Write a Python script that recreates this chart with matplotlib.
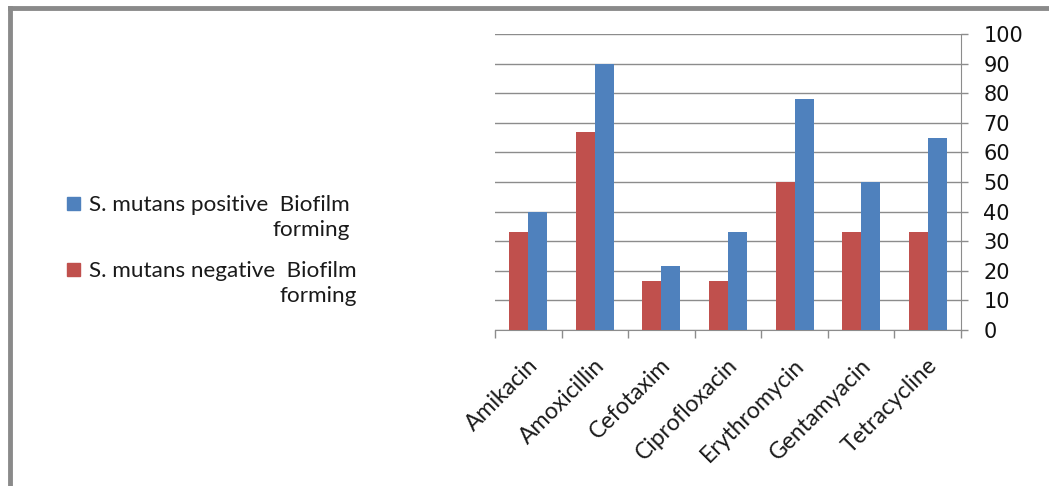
import matplotlib.pyplot as plt
import numpy as np
from matplotlib.lines import Line2D
from matplotlib.patches import Rectangle

# data
drugs = ["Amikacin", "Amoxicillin", "Cefotaxim", "Ciprofloxacin",
         "Erythromycin", "Gentamyacin", "Tetracycline"]
negative = [33, 67, 16.5, 16.5, 50, 33, 33]
positive = [40, 90, 21.5, 33, 78, 50, 65]
pos_label = "S. mutans positive  Biofilm\nforming"
neg_label = "S. mutans negative  Biofilm\nforming"

red = "#C0504D"
blue = "#4F81BD"
grey = "#8C8C8C"

W, H = 1049, 486
fig = plt.figure(figsize=(W / 100, H / 100), dpi=100)
# plot area: x 495..961 px, y 34..330 px
ax = fig.add_axes([495 / W, 1 - 330 / H, 466 / W, 296 / H])

x = np.arange(len(drugs))
w = 0.285
ax.bar(x - w / 2, negative, w, color=red, zorder=3)
ax.bar(x + w / 2, positive, w, color=blue, zorder=3)

ax.set_xlim(-0.5, len(drugs) - 0.5)
ax.set_ylim(0, 100)
ax.set_yticks(np.arange(0, 101, 10))
ax.yaxis.tick_right()
ax.grid(axis="y", color=grey, linewidth=1, zorder=0)

# category tick marks between groups
ax.set_xticks(np.arange(-0.5, len(drugs), 1))
ax.set_xticklabels([])
ax.tick_params(axis="x", length=6, color=grey, width=1)
ax.tick_params(axis="y", length=5, color=grey, width=1, labelsize=15, pad=11)
for lab in ax.get_yticklabels():
    lab.set_fontfamily("DejaVu Sans")
    lab.set_color("#111111")

for s in ["top", "left"]:
    ax.spines[s].set_visible(False)
ax.spines["right"].set_color(grey)
ax.spines["bottom"].set_color(grey)

# rotated drug names
for i, name in enumerate(drugs):
    ax.text(i - 0.02, -8.3, name, rotation=45, ha="right", va="top",
            rotation_mode="anchor", fontsize=16.6, family="Lato",
            color="#1a1a1a", clip_on=False)

# legend drawn by hand: square beside the first line, text right aligned
pitch = 28  # px between the two lines of one entry
legend_items = [(pos_label, blue, 208), (neg_label, red, 274)]
for label, col, base in legend_items:
    fig.add_artist(Rectangle((67 / W, 1 - (base + 2) / H), 13 / W, 13 / H,
                             transform=fig.transFigure, color=col))
    # 'baseline' anchors the last line of a multi-line text
    fig.text(89 / W, 1 - (base + pitch) / H, label, ha="left", va="baseline",
             multialignment="right", fontsize=16.2, family="Lato",
             color="#1a1a1a", linespacing=1.3)

# grey frame on left and top
fig.add_artist(Line2D([10 / W, 10 / W], [0, 1 - 8 / H], color="#8A8A8A", lw=3.5))
fig.add_artist(Line2D([10 / W, 1], [1 - 8 / H, 1 - 8 / H], color="#8A8A8A", lw=3.5))

fig.savefig("out.png", dpi=100)
